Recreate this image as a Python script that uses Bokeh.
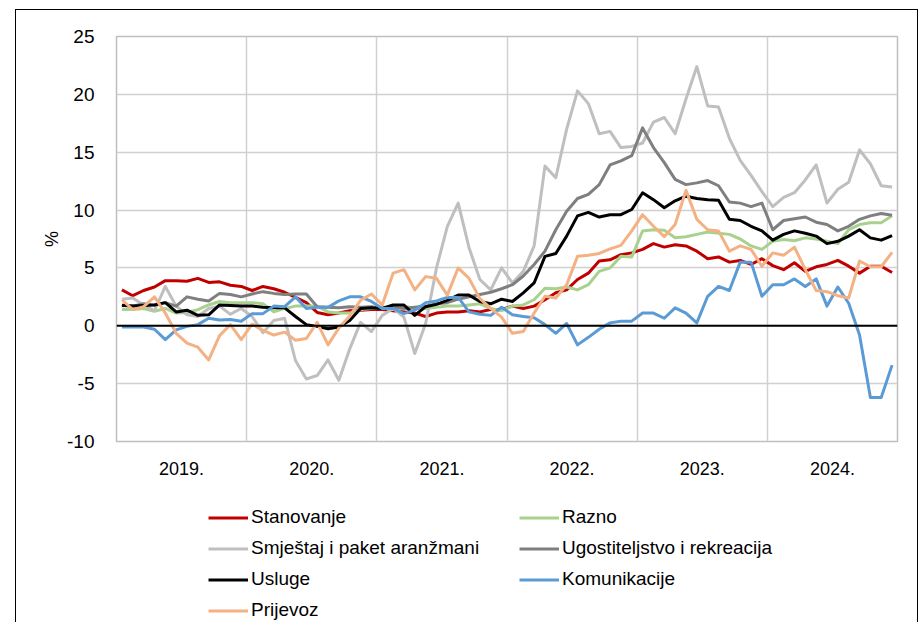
import numpy as np
from bokeh.plotting import figure
from bokeh.layouts import column
from bokeh.models import Range1d, FixedTicker, Span, Legend, LegendItem
from bokeh.embed import file_html
from bokeh.resources import INLINE

years = ["2019.", "2020.", "2021.", "2022.", "2023.", "2024."]

stanovanje = [3.1, 2.6, 3.05, 3.35, 3.9, 3.9, 3.85, 4.1, 3.75, 3.8, 3.5, 3.4,
              3.05, 3.4, 3.2, 2.9, 2.45, 2.0, 1.15, 0.95, 1.1, 1.3, 1.35, 1.4,
              1.4, 1.3, 1.2, 1.1, 0.8, 1.1, 1.2, 1.2, 1.3, 1.2, 1.4, 1.4,
              1.7, 1.5, 1.7, 2.25, 2.85, 3.1, 4.0, 4.55, 5.6, 5.7, 6.15, 6.3,
              6.6, 7.1, 6.8, 7.0, 6.9, 6.45, 5.8, 5.95, 5.5, 5.65, 5.3, 5.8,
              5.2, 4.85, 5.45, 4.7, 5.1, 5.3, 5.65, 5.15, 4.55, 5.15, 5.15, 4.6]

razno = [1.4, 1.4, 1.5, 1.25, 1.5, 1.1, 1.15, 1.4, 1.8, 2.1, 2.0, 2.0,
         2.0, 1.9, 1.2, 1.5, 1.7, 1.7, 1.7, 1.2, 1.1, 1.1, 1.4, 1.5,
         1.6, 1.6, 1.7, 1.5, 1.5, 1.6, 1.7, 1.7, 1.8, 1.9, 1.5, 1.3,
         1.7, 1.8, 2.25, 3.25, 3.2, 3.35, 3.1, 3.55, 4.7, 5.0, 6.0, 5.95,
         8.2, 8.3, 8.25, 7.6, 7.7, 7.9, 8.1, 8.0, 7.9, 7.5, 6.9, 6.6,
         7.3, 7.45, 7.35, 7.6, 7.5, 7.3, 7.1, 8.3, 8.75, 8.9, 8.9, 9.5]

smjestaj = [2.3, 2.4, 1.8, 1.3, 3.4, 1.7, 0.95, 0.8, 1.5, 1.7, 1.0, 1.5,
            0.8, -0.6, 0.45, 0.65, -3.0, -4.6, -4.3, -2.95, -4.7, -2.0, 0.3, -0.5,
            0.9, 1.5, 0.75, -2.4, 0.2, 5.0, 8.6, 10.6, 6.75, 4.0, 3.1, 5.0,
            3.7, 4.7, 6.9, 13.8, 12.8, 17.0, 20.3, 19.2, 16.6, 16.8, 15.4, 15.5,
            15.8, 17.6, 18.0, 16.6, 19.6, 22.4, 19.0, 18.9, 16.2, 14.3, 13.0, 11.6,
            10.3, 11.1, 11.5, 12.6, 13.9, 10.6, 11.8, 12.4, 15.2, 14.0, 12.1, 12.0]

ugostiteljstvo = [1.8, 1.7, 1.9, 1.8, 2.0, 1.7, 2.5, 2.3, 2.15, 2.8, 2.7, 2.5,
                  2.75, 2.95, 2.8, 2.7, 2.75, 2.75, 1.65, 1.6, 1.55, 1.65, 1.6, 1.65,
                  1.5, 1.6, 1.5, 1.6, 1.7, 1.9, 2.0, 2.3, 2.5, 2.7, 2.9, 3.2,
                  3.55, 4.3, 5.3, 6.45, 8.3, 9.9, 11.0, 11.35, 12.2, 13.9, 14.25, 14.7,
                  17.1, 15.4, 14.1, 12.65, 12.2, 12.35, 12.55, 12.1, 10.7, 10.6, 10.3, 10.6,
                  8.3, 9.1, 9.25, 9.4, 8.95, 8.75, 8.2, 8.6, 9.2, 9.5, 9.7, 9.55]

usluge = [1.75, 1.7, 1.75, 1.8, 2.0, 1.2, 1.35, 0.9, 0.95, 1.8, 1.75, 1.7,
          1.7, 1.6, 1.55, 1.55, 0.8, 0.1, -0.05, -0.25, -0.1, 0.45, 1.5, 1.55,
          1.5, 1.8, 1.8, 0.9, 1.65, 1.85, 2.2, 2.65, 2.65, 2.1, 1.9, 2.3,
          2.1, 2.85, 3.7, 6.0, 6.25, 7.75, 9.5, 9.8, 9.4, 9.6, 9.6, 10.05,
          11.5, 10.9, 10.2, 10.8, 11.2, 11.0, 10.9, 10.85, 9.2, 9.1, 8.6, 8.2,
          7.4, 7.9, 8.2, 8.0, 7.75, 7.1, 7.3, 7.75, 8.3, 7.6, 7.4, 7.8]

komunikacije = [-0.1, -0.1, -0.1, -0.3, -1.2, -0.35, -0.05, 0.1, 0.65, 0.5, 0.55, 0.4,
                1.05, 1.05, 1.7, 1.65, 2.5, 1.5, 1.6, 1.6, 2.15, 2.5, 2.5, 2.1,
                1.5, 1.5, 1.05, 1.35, 2.0, 2.15, 2.45, 2.45, 1.2, 1.0, 0.9, 1.6,
                0.95, 0.8, 0.7, 0.1, -0.65, 0.2, -1.65, -1.0, -0.3, 0.25, 0.4, 0.4,
                1.1, 1.1, 0.65, 1.55, 1.1, 0.25, 2.55, 3.4, 3.05, 5.5, 5.5, 2.55,
                3.55, 3.55, 4.05, 3.4, 4.05, 1.7, 3.35, 1.95, -0.8, -6.2, -6.2, -3.4]

prijevoz = [2.25, 1.4, 1.65, 2.5, 1.1, -0.65, -1.5, -1.85, -2.95, -0.85, 0.1, -1.2,
            0.15, -0.4, -0.8, -0.55, -1.25, -1.1, 0.3, -1.65, -0.2, 0.85, 2.2, 2.75,
            1.8, 4.55, 4.85, 3.1, 4.25, 4.1, 2.65, 5.0, 4.1, 2.35, 1.5, 0.75,
            -0.65, -0.5, 1.1, 2.55, 2.4, 3.55, 6.0, 6.1, 6.25, 6.65, 6.95, 8.2,
            9.6, 8.6, 7.7, 8.75, 11.7, 9.2, 8.3, 8.2, 6.45, 6.9, 6.6, 5.15,
            6.3, 6.1, 6.8, 4.85, 3.05, 2.95, 2.6, 2.4, 5.6, 5.1, 5.1, 6.35]

series = [
    ("Stanovanje", stanovanje, "#C00000"),
    ("Razno", razno, "#A9D18E"),
    ("Smještaj i paket aranžmani", smjestaj, "#BFBFBF"),
    ("Ugostiteljstvo i rekreacija", ugostiteljstvo, "#7F7F7F"),
    ("Usluge", usluge, "#000000"),
    ("Komunikacije", komunikacije, "#5B9BD5"),
    ("Prijevoz", prijevoz, "#F4B183"),
]

n_months = len(stanovanje)
x = np.arange(n_months) + 0.5

FONT = "Liberation Sans"
W = 901

p = figure(width=W, height=480, output_backend="svg", toolbar_location=None,
           x_range=Range1d(0, n_months), y_range=Range1d(-10, 25),
           min_border_left=100, min_border_right=20, min_border_top=26,
           min_border_bottom=49)
p.background_fill_color = "white"
p.border_fill_color = "white"
p.outline_line_color = "#BFBFBF"
p.outline_line_width = 1.5

# grid
yticks = list(range(-10, 30, 5))
p.ygrid.ticker = FixedTicker(ticks=yticks)
p.ygrid.grid_line_color = "#D0D0D0"
p.ygrid.grid_line_width = 1.5
p.xgrid.ticker = FixedTicker(ticks=[12 * k for k in range(len(years) + 1)])
p.xgrid.grid_line_color = "#D0D0D0"
p.xgrid.grid_line_width = 1.5

# axes
p.yaxis.ticker = FixedTicker(ticks=yticks)
p.yaxis.major_label_overrides = {t: str(t) for t in yticks}
p.yaxis.axis_line_color = None
p.yaxis.major_tick_line_color = None
p.yaxis.minor_tick_line_color = None
p.yaxis.major_label_text_font = FONT
p.yaxis.major_label_text_font_size = "19px"
p.yaxis.major_label_text_color = "#000000"
p.yaxis.major_label_standoff = 16
p.yaxis.axis_label = "%"
p.yaxis.axis_label_text_font = FONT
p.yaxis.axis_label_text_font_size = "18px"
p.yaxis.axis_label_text_font_style = "normal"
p.yaxis.axis_label_text_color = "#000000"
p.yaxis.axis_label_standoff = 2

centers = [12 * k + 6 for k in range(len(years))]
p.xaxis.ticker = FixedTicker(ticks=centers)
p.xaxis.major_label_overrides = {c: y for c, y in zip(centers, years)}
p.xaxis.axis_line_color = None
p.xaxis.major_tick_line_color = None
p.xaxis.minor_tick_line_color = None
p.xaxis.major_label_text_font = FONT
p.xaxis.major_label_text_font_size = "18px"
p.xaxis.major_label_text_color = "#000000"
p.xaxis.major_label_standoff = 14

# zero line
p.add_layout(Span(location=0, dimension="width", line_color="black", line_width=2))

for name, vals, color in series:
    p.line(x, vals, line_color=color, line_width=3, line_join="round")

# legend in its own strip below the chart (series drawn out of view, only legend shows)
pl = figure(width=W, height=132, output_backend="svg", toolbar_location=None,
            x_range=Range1d(0, n_months), y_range=Range1d(1000, 1001),
            x_axis_type=None, y_axis_type=None,
            min_border_left=100, min_border_right=20, min_border_top=0, min_border_bottom=0)
pl.outline_line_color = None
pl.grid.visible = False
pl.background_fill_alpha = 0
pl.border_fill_alpha = 0

legend_order = ["Stanovanje", "Smještaj i paket aranžmani", "Usluge", "Prijevoz",
                "Razno", "Ugostiteljstvo i rekreacija", "Komunikacije"]
lookup = {nm: (vals, c) for nm, vals, c in series}
items = []
for nm in legend_order:
    vals, c = lookup[nm]
    r = pl.line(x, vals, line_color=c, line_width=3)
    items.append(LegendItem(label=nm, renderers=[r]))

lg = Legend(items=items, location=(92, 1), orientation="vertical", ncols=2)
lg.label_text_font = FONT
lg.label_text_font_size = "19px"
lg.label_text_color = "#000000"
lg.glyph_width = 40
lg.glyph_height = 19
lg.label_height = 19
lg.label_width = 259
lg.label_standoff = 3
lg.spacing = 9
lg.padding = 0
lg.margin = 0
lg.border_line_color = None
lg.background_fill_alpha = 0
pl.add_layout(lg)

layout = column(p, pl, spacing=0, margin=(9, 0, 0, 15),
                styles={"border-top": "1px solid black",
                        "border-left": "1px solid black",
                        "border-right": "1px solid black"})

open("out.html", "w").write(file_html(layout, INLINE))
